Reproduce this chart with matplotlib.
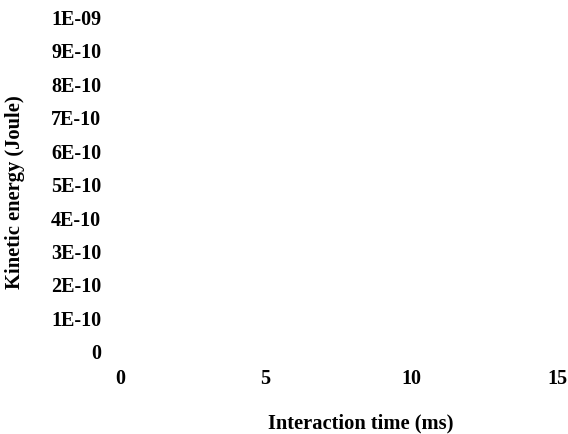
import matplotlib
matplotlib.use("Agg")
import matplotlib.pyplot as plt

# =========================================================
# data (the chart has axes only, no plotted series)
# =========================================================
x_ticks = [0, 5, 10, 15]
x_labels = ["0", "5", "10", "15"]
y_ticks = [0, 1e-10, 2e-10, 3e-10, 4e-10, 5e-10, 6e-10, 7e-10, 8e-10, 9e-10, 1e-9]
y_labels = ["0", "1E-10", "2E-10", "3E-10", "4E-10", "5E-10",
            "6E-10", "7E-10", "8E-10", "9E-10", "1E-09"]

plt.rcParams['font.family'] = ['Liberation Serif', 'DejaVu Serif']
plt.rcParams['font.weight'] = 'bold'

# =========================================================
# plotting
# =========================================================
W, H = 568, 435
fig = plt.figure(figsize=(W / 100, H / 100), dpi=100)
ax = fig.add_axes([120 / W, 83 / H, (557 - 120) / W, (352 - 17) / H])

ax.set_xlim(0, 15)
ax.set_ylim(0, 1e-9)
ax.set_xticks(x_ticks, x_labels, fontsize=14.5, fontweight='bold')
ax.set_yticks(y_ticks, y_labels, fontsize=14.5, fontweight='bold')
ax.tick_params(axis='both', length=0)
ax.tick_params(axis='y', pad=13.5)
ax.tick_params(axis='x', pad=12.5)
for s in ax.spines.values():
    s.set_visible(False)

fig.text(361 / W, 1 - 423 / H, "Interaction time (ms)", ha='center', va='center',
         fontsize=14.8, fontweight='bold')
fig.text(15 / W, 1 - 192 / H, "Kinetic energy (Joule)", ha='center', va='center',
         rotation=90, fontsize=14.8, fontweight='bold')

fig.savefig("out.png", dpi=100)
